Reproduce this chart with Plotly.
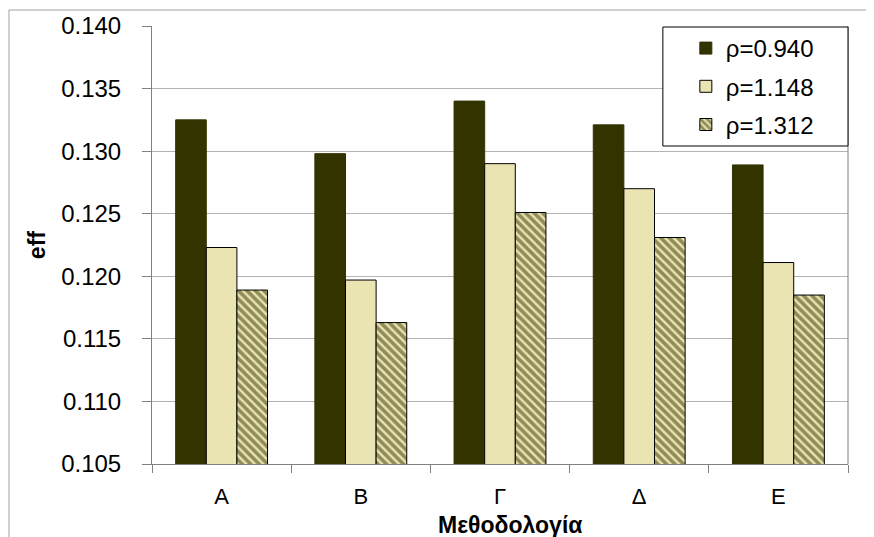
import plotly.graph_objects as go

categories = ["Α", "Β", "Γ", "Δ", "Ε"]
series_names = ["ρ=0.940", "ρ=1.148", "ρ=1.312"]
rho_0940 = [0.1325, 0.1298, 0.1340, 0.1321, 0.1289]
rho_1148 = [0.1223, 0.1197, 0.1290, 0.1270, 0.1211]
rho_1312 = [0.1189, 0.1163, 0.1251, 0.1231, 0.1185]
y_ticks = [0.105, 0.110, 0.115, 0.120, 0.125, 0.130, 0.135, 0.140]
x_title = "Μεθοδολογία"
y_title = "eff"

DARK = "#333300"
LIGHT = "#EAE4B2"
FONT = "Liberation Sans, Arial, sans-serif"

fig = go.Figure()
fig.add_trace(go.Bar(x=categories, y=rho_0940, name=series_names[0],
                     marker=dict(color=DARK, line=dict(color=DARK, width=1)),
                     legendgroup="a"))
fig.add_trace(go.Bar(x=categories, y=rho_1148, name=series_names[1],
                     marker=dict(color=LIGHT, line=dict(color="#000000", width=1)),
                     legendgroup="b"))
fig.add_trace(go.Bar(x=categories, y=rho_1312, name=series_names[2],
                     marker=dict(color=LIGHT, line=dict(color="#000000", width=1),
                                 pattern=dict(shape="\\", fgcolor=DARK, bgcolor=LIGHT,
                                              size=6, solidity=0.6)),
                     legendgroup="c"))

# page body has an 8px default margin, so the figure is 8px smaller
fig.update_layout(
    width=866, height=529,
    margin=dict(l=144, r=26, t=18, b=73),
    paper_bgcolor="white", plot_bgcolor="white",
    barmode="group", bargap=0.34, bargroupgap=0,
    font=dict(family=FONT, size=24, color="#000000"),
    showlegend=True,
    legend=dict(x=0.767, xanchor="left", y=1.0, yanchor="top",
                bgcolor="rgba(0,0,0,0)", borderwidth=0,
                font=dict(family=FONT, size=24), traceorder="grouped",
                tracegroupgap=4, itemwidth=30),
    xaxis=dict(showline=True, linecolor="#808080", linewidth=1, automargin=False,
               ticks="outside", tickson="boundaries", ticklen=8, tickcolor="#808080",
               tickfont=dict(family=FONT, size=22), ticklabelstandoff=13),
    yaxis=dict(range=[0.105, 0.140], tickvals=y_ticks, tickformat=".3f", automargin=False,
               showline=True, linecolor="#808080", linewidth=1,
               ticks="outside", ticklen=9, tickcolor="#808080",
               showgrid=True, gridcolor="#B4B4B4", gridwidth=1,
               tickfont=dict(family=FONT, size=24), ticklabelstandoff=16),
    annotations=[
        dict(text="<b>" + x_title + "</b>", xref="paper", yref="paper",
             x=0.514, y=-0.139, xanchor="center", yanchor="middle", showarrow=False,
             font=dict(family=FONT, size=23)),
        dict(text="<b>" + y_title + "</b>", xref="paper", yref="paper",
             x=-0.165, y=0.5, xanchor="center", yanchor="middle", textangle=-90,
             showarrow=False, font=dict(family=FONT, size=23)),
    ],
)

# right edge of plot area
fig.add_shape(type="line", xref="paper", yref="paper", x0=1, x1=1, y0=0, y1=1,
              line=dict(color="#808080", width=1))
# legend box
fig.add_shape(type="rect", xref="paper", yref="paper", layer="above",
              x0=0.734, x1=1.0, y0=0.726, y1=0.9977,
              fillcolor="white", line=dict(color="#000000", width=1))
# outer chart border
fig.add_shape(type="rect", xref="paper", yref="paper",
              x0=-0.2055, x1=1.1, y0=-0.25, y1=1.0365,
              line=dict(color="#A0A0A0", width=1))

fig.write_html("out.html")
